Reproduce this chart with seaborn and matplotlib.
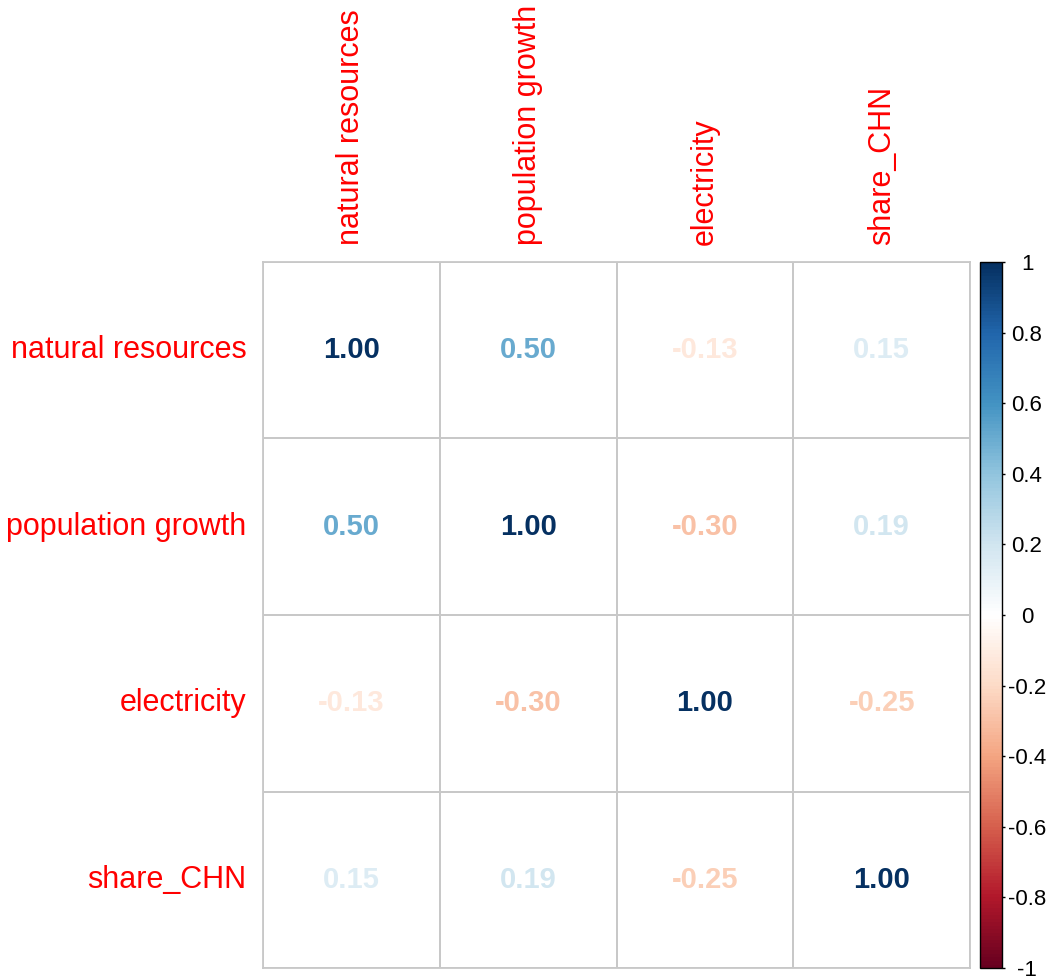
import numpy as np
import pandas as pd
import matplotlib
matplotlib.use("Agg")
import matplotlib.pyplot as plt
import seaborn as sns
from matplotlib.colors import LinearSegmentedColormap, ListedColormap, Normalize
from matplotlib.cm import ScalarMappable

# data
variables = ["natural resources", "population growth", "electricity", "share_CHN"]
corr_values = [
    [1.00, 0.50, -0.13, 0.15],
    [0.50, 1.00, -0.30, 0.19],
    [-0.13, -0.30, 1.00, -0.25],
    [0.15, 0.19, -0.25, 1.00],
]
cbar_ticks = [-1, -0.8, -0.6, -0.4, -0.2, 0, 0.2, 0.4, 0.6, 0.8, 1]
cbar_labels = ["-1", "-0.8", "-0.6", "-0.4", "-0.2", "0", "0.2", "0.4", "0.6", "0.8", "1"]

df = pd.DataFrame(corr_values, index=variables, columns=variables)

# paleta RdBu estilo corrplot (COL2)
rdbu = LinearSegmentedColormap.from_list(
    "col2_rdbu",
    ["#67001F", "#B2182B", "#D6604D", "#F4A582", "#FDDBC7", "#FFFFFF",
     "#D1E5F0", "#92C5DE", "#4393C3", "#2166AC", "#053061"], N=200)
norm = Normalize(vmin=-1, vmax=1)

sns.set_style("white")
plt.rcParams['font.family'] = ['Liberation Sans', 'DejaVu Sans']

fig = plt.figure(figsize=(10.53, 9.8), dpi=100)
ax = fig.add_axes([0.2498, 0.0122, 0.6714, 0.7205])
cax = fig.add_axes([0.9307, 0.0122, 0.0209, 0.7205])

sns.heatmap(df, ax=ax, cmap=ListedColormap(["white"]), cbar=False,
            annot=True, fmt=".2f", linewidths=1.3, linecolor="#c8c8c8",
            annot_kws={"fontsize": 21, "fontweight": "bold"}, square=False)

# colorear los números según el valor
for txt, val in zip(ax.texts, np.array(corr_values).ravel()):
    txt.set_color(rdbu(norm(val)))

# borde exterior
for spine in ax.spines.values():
    spine.set_visible(True)
    spine.set_color("#c8c8c8")
    spine.set_linewidth(1.3)

ax.xaxis.tick_top()
ax.set_xticklabels(variables, rotation=90, color="red", fontsize=22)
ax.set_yticklabels(variables, rotation=0, color="red", fontsize=22)
ax.tick_params(axis="x", length=0, pad=12)
ax.tick_params(axis="y", length=0, pad=12)
ax.set_xlabel("")
ax.set_ylabel("")

# barra de color
cb = fig.colorbar(ScalarMappable(norm=norm, cmap=rdbu), cax=cax)
cb.set_ticks(cbar_ticks)
cb.set_ticklabels(cbar_labels)
cb.ax.tick_params(labelsize=16, length=2, width=1, color="black",
                  labelcolor="black", pad=16)
for lbl in cb.ax.get_yticklabels():
    lbl.set_horizontalalignment("center")
cb.outline.set_edgecolor("black")
cb.outline.set_linewidth(1)

plt.savefig("out.png", dpi=100)
